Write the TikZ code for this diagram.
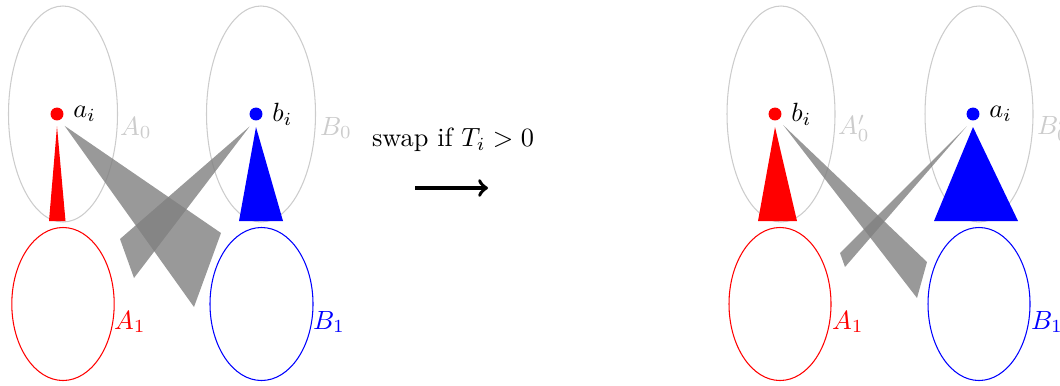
\documentclass[tikz,border=0pt]{standalone}
\tikzset{
  dot/.style={circle,fill,inner sep=0pt,minimum size=4.9pt},
  shade/.style={fill=gray,fill opacity=0.8},
  faint/.style={black!20},
}
\begin{document}
\begin{tikzpicture}[x=0.013333cm,y=-0.013333cm]
  \useasboundingbox (0,0) rectangle (1060,385);
  % before: sets
  \draw[faint] (63,114) ellipse [x radius=54.5, y radius=108];
  \draw[faint] (261,114) ellipse [x radius=54.5, y radius=108];
  \draw[red] (63,304) ellipse [x radius=51.2, y radius=76.5];
  \draw[blue] (261.5,304) ellipse [x radius=51.5, y radius=76.5];
  \node[faint] (A0) at (136,128) {$A_0$};
  \node[faint] (B0) at (336,128) {$B_0$};
  \node[red] (A1) at (130,322) {$A_1$};
  \node[blue] (B1) at (329,322) {$B_1$};
  % before: points
  \node[dot,red,label=right:$a_i$] (ai) at (57,114) {};
  \node[dot,blue,label=right:$b_i$] (bi) at (256,114) {};
  \fill[shade] ([shift={(1pt,-2.6pt)}]ai.south east) -- (221,233) -- (194,307) -- cycle;
  \fill[shade] ([shift={(-0.5pt,-2.8pt)}]bi.south west) -- (120,239) -- (134,278) -- cycle;
  \fill[red] ([yshift=-2pt]ai.south) -- (49,221) -- (65.5,221) -- cycle;
  \fill[blue] ([yshift=-2.3pt]bi.south) -- (239,221) -- (283,221) -- cycle;
  % swap
  \node (swap) at (453,140) {swap if $T_i > 0$};
  \coordinate (from) at (415,188);
  \coordinate (to) at (488,188);
  \draw[line width=1.4pt,->] (from) -- (to);
  % after: sets
  \draw[faint] (781,114) ellipse [x radius=54, y radius=108];
  \draw[faint] (979,114) ellipse [x radius=54, y radius=108];
  \draw[red] (780,304) ellipse [x radius=51, y radius=76.5];
  \draw[blue] (979,304) ellipse [x radius=51, y radius=76.5];
  \node[faint] (A0p) at (854,128) {$A_0'$};
  \node[faint] (B0p) at (1053,128) {$B_0'$};
  \node[red] (A1p) at (848,322) {$A_1$};
  \node[blue] (B1p) at (1047,322) {$B_1$};
  % after: points
  \node[dot,red,label=right:$b_i$] (bip) at (775,114) {};
  \node[dot,blue,label=right:$a_i$] (aip) at (973,114) {};
  \fill[shade] ([shift={(1.2pt,-2.3pt)}]bip.south east) -- (927,262) -- (917,298) -- cycle;
  \fill[shade] ([shift={(-0.5pt,-2.8pt)}]aip.south west) -- (840,253) -- (845,267) -- cycle;
  \fill[red] ([yshift=-2.3pt]bip.south) -- (758,221) -- (797,221) -- cycle;
  \fill[blue] ([yshift=-2.3pt]aip.south) -- (934,221) -- (1018,221) -- cycle;
\end{tikzpicture}
\end{document}
